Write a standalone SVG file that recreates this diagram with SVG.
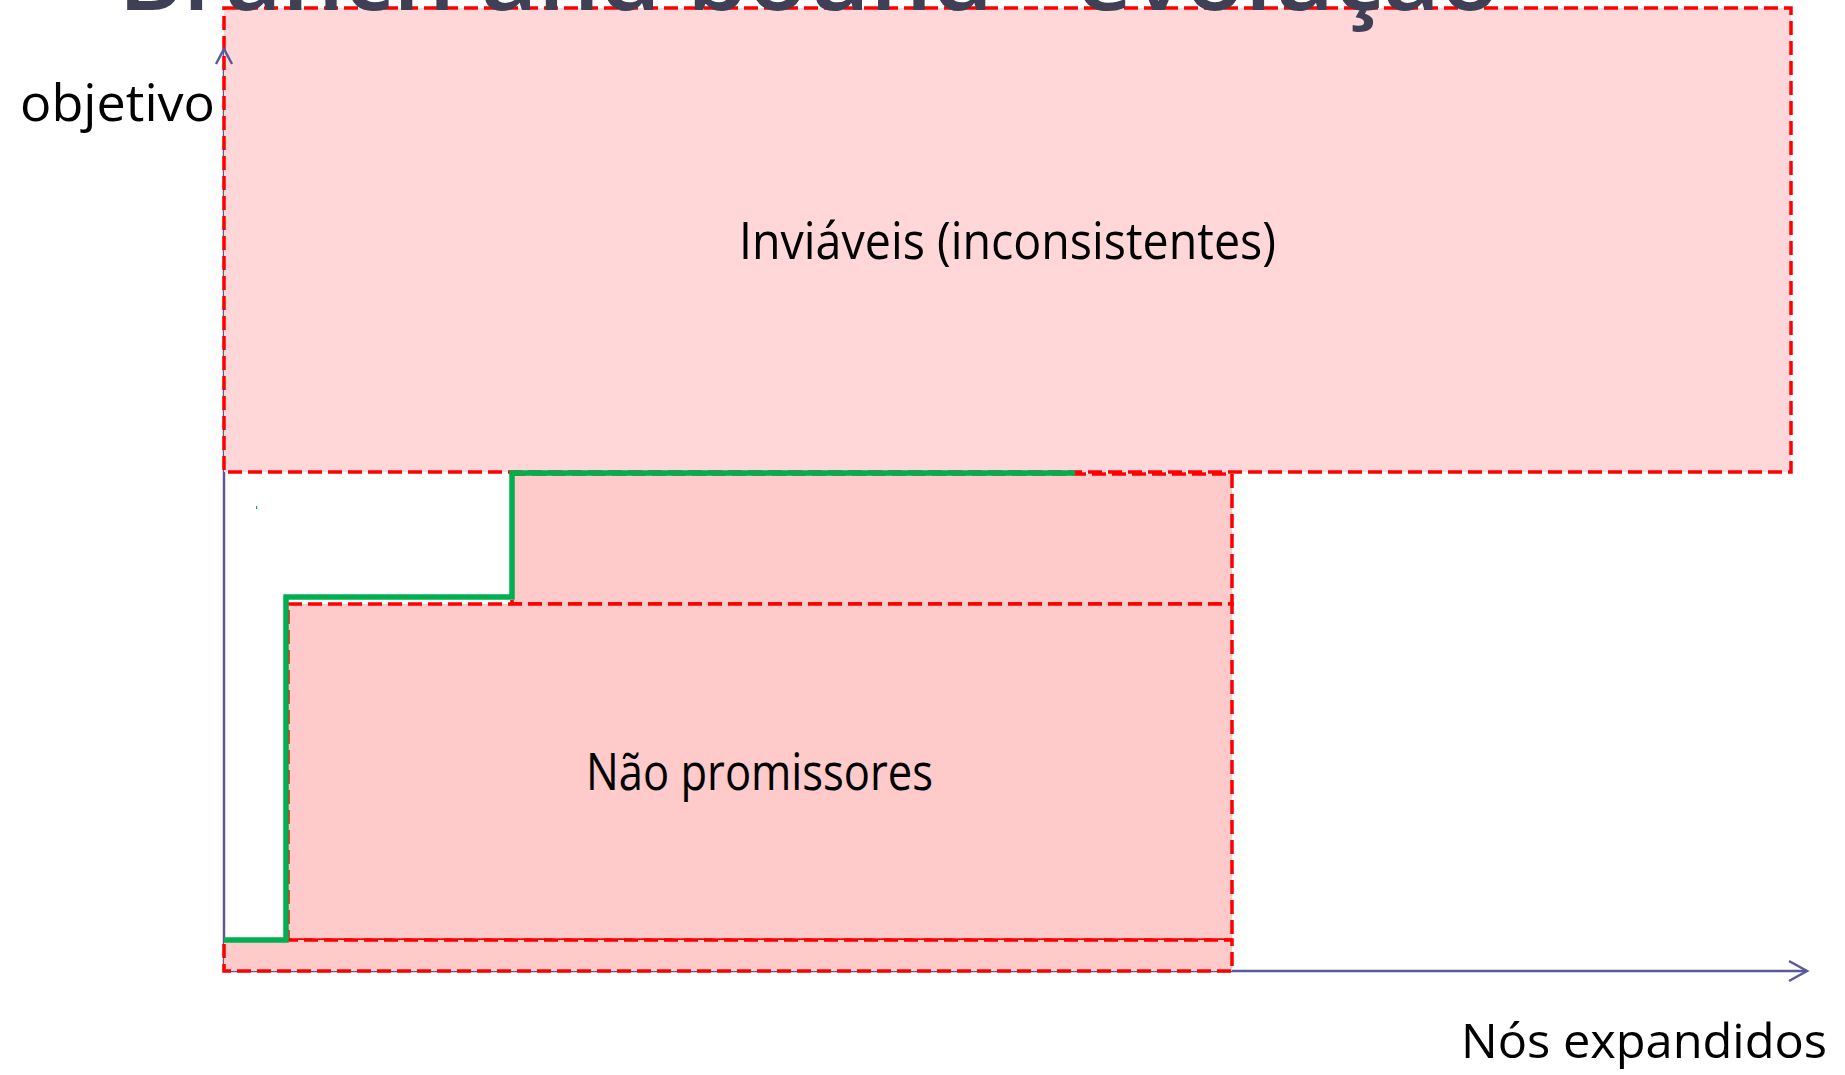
<svg xmlns="http://www.w3.org/2000/svg" width="1845" height="1075" viewBox="0 0 1845 1075">
<style>
.region{stroke:#ff0000;stroke-width:3.5;stroke-dasharray:14 6}
.top{fill:#ffd7d8}
.low{fill:#ffcaca}
.axis{stroke:#5a5a99;stroke-width:2.5;fill:none}
.lbl{font-family:"Open Sans","Noto Sans","Liberation Sans",sans-serif;font-size:52px;fill:#000}
.title{font-family:"Open Sans","Noto Sans","Liberation Sans",sans-serif;font-size:92px;font-weight:600;fill:#3f3f55}
.path{stroke:#00b050;stroke-width:5.5;fill:none}
</style>
<rect width="1845" height="1075" fill="#fff"/>
<g id="axes">
<line class="axis" x1="224" y1="49" x2="224" y2="971"/>
<line class="axis" x1="224" y1="971" x2="1807" y2="971"/>
</g>
<g id="inviaveis">
<rect class="region top" x="224" y="8" width="1567" height="464"/>
<text class="lbl" x="739" y="259" textLength="537" lengthAdjust="spacingAndGlyphs">Inviáveis (inconsistentes)</text>
</g>
<g id="nao-promissores-alto">
<rect class="region low" x="512" y="474" width="720" height="130"/>
</g>
<g id="nao-promissores">
<rect class="region low" x="288" y="604" width="944" height="336"/>
<text class="lbl" x="586" y="790" textLength="347" lengthAdjust="spacingAndGlyphs">Não promissores</text>
</g>
<g id="base">
<rect class="region low" x="224" y="940" width="1008" height="31"/>
</g>
<g id="arrowheads">
<polyline class="axis" points="216,64 224,49 232,64"/>
<polyline class="axis" points="1789,961 1807,971 1789,981"/>
</g>
<g id="connectors">
<polyline class="path" points="224,940 286,940 286,597 512,597 512,473 1075,473"/>
<rect x="256" y="506" width="1.2" height="3" fill="#00b050"/>
</g>
<g id="labels">
<text class="lbl" x="20" y="121" textLength="195" lengthAdjust="spacingAndGlyphs">objetivo</text>
<text class="lbl" x="1461" y="1058" style="font-size:48px" textLength="366" lengthAdjust="spacingAndGlyphs">Nós expandidos</text>
<text class="title" x="118" y="10" textLength="1382" lengthAdjust="spacingAndGlyphs">Branch and bound - evolução</text>
</g>
</svg>
